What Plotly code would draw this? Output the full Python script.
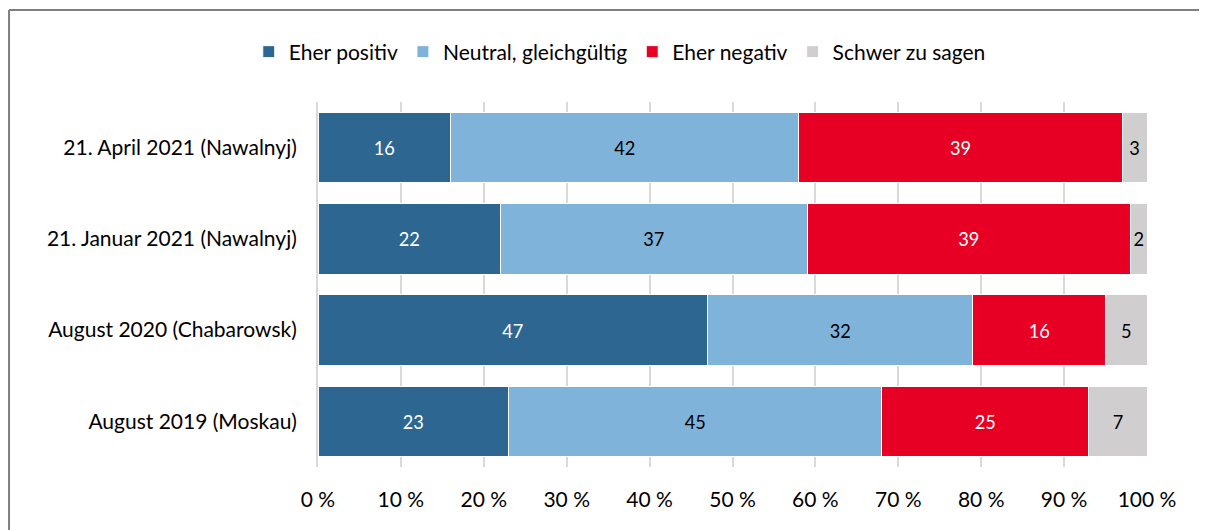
import plotly.graph_objects as go

CATEGORIES = ["21. April 2021 (Nawalnyj)", "21. Januar 2021 (Nawalnyj)",
              "August 2020 (Chabarowsk)", "August 2019 (Moskau)"]
SERIES = ["Eher positiv", "Neutral, gleichgültig", "Eher negativ", "Schwer zu sagen"]
POSITIV = [16, 22, 47, 23]
NEUTRAL = [42, 37, 32, 45]
NEGATIV = [39, 39, 16, 25]
SCHWER = [3, 2, 5, 7]
TICKS = [0, 10, 20, 30, 40, 50, 60, 70, 80, 90, 100]

COLORS = ["#2D6791", "#80B3DA", "#E80024", "#D0CECF"]
TEXT_COLORS = ["white", "black", "white", "black"]
FONT = "Lato, Noto Sans, sans-serif"

fig = go.Figure()
for name, vals, col, tcol in zip(SERIES, [POSITIV, NEUTRAL, NEGATIV, SCHWER], COLORS, TEXT_COLORS):
    fig.add_trace(go.Bar(
        y=CATEGORIES, x=vals, name=name, orientation="h",
        marker=dict(color=col, line=dict(color="white", width=1)),
        text=vals, textposition="inside", insidetextanchor="middle",
        textfont=dict(color=tcol, size=21, family=FONT),
    ))

# outer frame: only top and left edges are visible
fig.add_shape(type="line", xref="paper", yref="paper",
              x0=-0.3727, x1=1.082, y0=1.252, y1=1.252,
              line=dict(color="#7f7f7f", width=2), layer="below")
fig.add_shape(type="line", xref="paper", yref="paper",
              x0=-0.3727, x1=-0.3727, y0=-0.2, y1=1.252,
              line=dict(color="#7f7f7f", width=2), layer="below")

# page body has an 8px margin, so everything is shifted by -8
fig.update_layout(
    barmode="stack", bargap=0.23,
    width=1207, height=530,
    margin=dict(l=310, r=68, t=94, b=71),
    paper_bgcolor="white", plot_bgcolor="white",
    font=dict(family=FONT, size=21, color="black"),
    legend=dict(orientation="h", x=0.364, xanchor="center", y=1.137, yanchor="middle",
                font=dict(size=21), itemwidth=30, traceorder="normal"),
    uniformtext=dict(minsize=12, mode="show"),
)
fig.update_xaxes(range=[0, 100], tickvals=TICKS, ticktext=[f"{t} %" for t in TICKS],
                 showgrid=True, gridcolor="#d9d9d9", gridwidth=1.5, zeroline=False,
                 showline=False, ticks="", ticklabelstandoff=18)
fig.update_yaxes(autorange="reversed", showgrid=False, zeroline=False,
                 showline=True, linecolor="#d9d9d9", linewidth=2, ticks="",
                 ticklabelstandoff=15)

fig.write_html("out.html")
